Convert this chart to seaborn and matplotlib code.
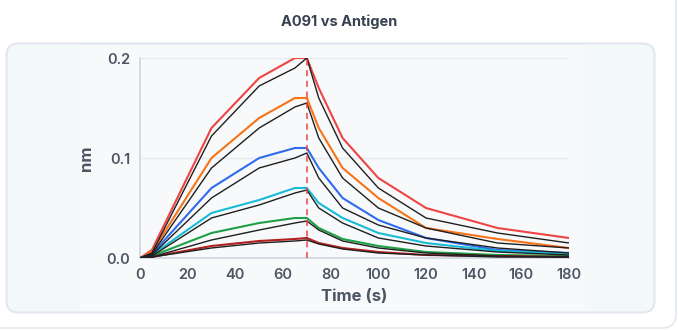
import matplotlib
matplotlib.use("Agg")
import matplotlib.pyplot as plt
from matplotlib.patches import FancyBboxPatch, Rectangle
import pandas as pd
import seaborn as sns

# sensorgram time points (s)
time_s = [0, 5, 30, 50, 65, 70, 75, 85, 100, 120, 150, 180]
assoc_end = 70

# observed responses (nm), one per analyte concentration
obs_red = [0, 0.008, 0.13, 0.18, 0.2, 0.2, 0.17, 0.12, 0.08, 0.05, 0.03, 0.02]
obs_orange = [0, 0.006, 0.1, 0.14, 0.16, 0.16, 0.13, 0.09, 0.06, 0.03, 0.019, 0.01]
obs_blue = [0, 0.004, 0.07, 0.1, 0.11, 0.11, 0.09, 0.06, 0.038, 0.02, 0.008, 0.005]
obs_cyan = [0, 0.003, 0.045, 0.058, 0.07, 0.07, 0.055, 0.04, 0.025, 0.015, 0.007, 0.004]
obs_green = [0, 0.002, 0.025, 0.035, 0.04, 0.04, 0.03, 0.019, 0.012, 0.006, 0.003, 0.002]
obs_darkred = [0, 0.001, 0.012, 0.017, 0.019, 0.02, 0.015, 0.01, 0.006, 0.003, 0.002, 0.001]

# fitted curves (black)
fit_red = [0, 0.005, 0.122, 0.172, 0.19, 0.2, 0.16, 0.11, 0.07, 0.04, 0.025, 0.015]
fit_orange = [0, 0.004, 0.09, 0.13, 0.151, 0.155, 0.12, 0.08, 0.05, 0.03, 0.015, 0.01]
fit_blue = [0, 0.003, 0.06, 0.09, 0.1, 0.105, 0.08, 0.05, 0.033, 0.02, 0.01, 0.005]
fit_cyan = [0, 0.002, 0.04, 0.053, 0.065, 0.068, 0.05, 0.035, 0.02, 0.012, 0.006, 0.003]
fit_green = [0, 0.001, 0.018, 0.028, 0.035, 0.037, 0.028, 0.017, 0.01, 0.005, 0.002, 0.001]
fit_darkred = [0, 0.001, 0.01, 0.015, 0.017, 0.018, 0.014, 0.009, 0.005, 0.003, 0.001, 0.001]

observed = [obs_red, obs_orange, obs_blue, obs_cyan, obs_green, obs_darkred]
fitted = [fit_red, fit_orange, fit_blue, fit_cyan, fit_green, fit_darkred]
colors = ["#ef4444", "#f97316", "#2f6bef", "#17bcd6", "#1fa046", "#b41f1f"]

sns.set_theme(style="white")
plt.rcParams["font.family"] = ["Inter", "DejaVu Sans"]

fig = plt.figure(figsize=(6.78, 3.31), dpi=100)
fig.patch.set_facecolor("white")

# background cards in pixel coordinates
bg = fig.add_axes([0, 0, 1, 1], zorder=-5)
bg.set_xlim(0, 678)
bg.set_ylim(331, 0)
bg.axis("off")
bg.add_patch(FancyBboxPatch((-30, -30), 706, 358, boxstyle="round,pad=0,rounding_size=14",
                            facecolor="white", edgecolor="#e3e7ee", linewidth=1.2))
bg.add_patch(FancyBboxPatch((6.5, 43.5), 648, 269, boxstyle="round,pad=0,rounding_size=12",
                            facecolor="#f3f8f8", edgecolor="#e2e6ef", linewidth=1.5))
bg.add_patch(Rectangle((80, 45), 505, 266, facecolor="#f8f9fa", edgecolor="none"))

ax = fig.add_axes([140 / 678, 1 - 258 / 331, 429 / 678, 200 / 331])
ax.set_facecolor("none")

for obs, c in zip(observed, colors):
    sns.lineplot(x=time_s, y=obs, color=c, linewidth=1.5, ax=ax, zorder=3)
for fit in fitted:
    sns.lineplot(x=time_s, y=fit, color="#1f1f1f", linewidth=1.0, ax=ax, zorder=4)

ax.axvline(assoc_end, ymin=0, ymax=1, color="#ef4444", linestyle=(0, (4, 3)),
           linewidth=1.1, zorder=5)

ax.set_xlim(0, 180)
ax.set_ylim(0, 0.2)
ax.set_xticks(range(0, 181, 20))
ax.set_yticks([0, 0.1, 0.2])
ax.set_yticklabels(["0.0", "0.1", "0.2"])
ax.grid(axis="y", color="#e6e9ef", linewidth=1)
ax.grid(axis="x", visible=False)
for side in ["top", "right"]:
    ax.spines[side].set_visible(False)
for side in ["left", "bottom"]:
    ax.spines[side].set_color("#cfd6e2")
    ax.spines[side].set_linewidth(1.2)
ax.tick_params(axis="both", length=4, width=1, color="#cfd6e2", labelsize=10.5,
               labelcolor="#4b5563", pad=3)
for lab in ax.get_xticklabels() + ax.get_yticklabels():
    lab.set_fontweight("semibold")

ax.set_xlabel("Time (s)", fontsize=12, fontweight="bold", color="#4b5563", labelpad=5)
ax.set_ylabel("nm", fontsize=12, fontweight="bold", color="#4b5563", labelpad=9)

fig.text(339 / 678, 1 - 22 / 331, "A091 vs Antigen", ha="center", va="center",
         fontsize=10.5, fontweight="bold", color="#374151")

fig.savefig("out.png", dpi=100)
